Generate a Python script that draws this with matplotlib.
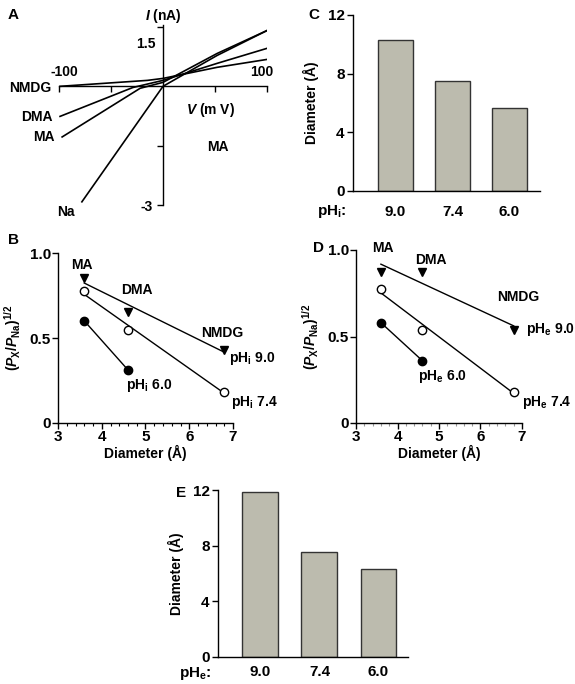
import numpy as np
import matplotlib
matplotlib.use("Agg")
import matplotlib.pyplot as plt

plt.rcParams['font.family'] = ['Liberation Sans', 'DejaVu Sans']
plt.rcParams['font.weight'] = 'bold'
plt.rcParams['axes.labelweight'] = 'bold'
plt.rcParams['font.size'] = 10
plt.rcParams['mathtext.fontset'] = 'custom'
plt.rcParams['mathtext.rm'] = 'Liberation Sans:bold'
plt.rcParams['mathtext.it'] = 'Liberation Sans:italic:bold'
plt.rcParams['mathtext.bf'] = 'Liberation Sans:bold'
plt.rcParams['axes.linewidth'] = 1.0

W, H = 575, 684

# --- panel A: I-V curves ---
iv_nmdg_v = [-99, -15, 0, 52, 100]
iv_nmdg_i = [0.0, 0.15, 0.2, 0.48, 0.68]
iv_dma_v = [-99, -29, 0, 52, 100]
iv_dma_i = [-0.76, -0.03, 0.15, 0.58, 0.96]
iv_ma_v = [-97, -22, 0, 52, 100]
iv_ma_i = [-1.28, -0.05, 0.1, 0.83, 1.41]
iv_na_v = [-78, 0, 52, 100]
iv_na_i = [-2.92, 0.0, 0.78, 1.41]

# --- panels B and D: permeability ratio vs diameter ---
diam = [3.6, 4.6, 6.8]
diam_60 = [3.6, 4.6]
b_ph90 = [0.853, 0.653, 0.43]
b_ph74 = [0.776, 0.547, 0.184]
b_ph60 = [0.601, 0.312]
d_ph90 = [0.871, 0.875, 0.54]
d_ph74 = [0.773, 0.54, 0.181]
d_ph60 = [0.58, 0.36]

# --- panels C and E: pore diameter ---
ph_labels = ['9.0', '7.4', '6.0']
c_diam = [10.3, 7.52, 5.64]
e_diam = [11.83, 7.52, 6.32]

bar_color = '#bcbbae'

fig = plt.figure(figsize=(W / 100, H / 100), dpi=100)


def px_axes(left, top, right, bottom):
    return fig.add_axes([left / W, 1 - bottom / H, (right - left) / W, (bottom - top) / H])


def ftext(x, y, s, **kw):
    fig.text(x / W, 1 - y / H, s, **kw)


# ---------- A ----------
ax = px_axes(59, 25, 267, 205)
for v, i in [(iv_nmdg_v, iv_nmdg_i), (iv_dma_v, iv_dma_i), (iv_ma_v, iv_ma_i), (iv_na_v, iv_na_i)]:
    ax.plot(v, i, color='black', lw=1.2)
ax.set_xlim(-100, 100)
ax.set_ylim(-3.0, 1.55)
ax.spines['left'].set_position(('data', 0))
ax.spines['bottom'].set_position(('data', 0))
ax.spines['right'].set_visible(False)
ax.spines['top'].set_visible(False)
ax.set_xticks([-100, -50, 50, 100])
ax.set_xticklabels([])
ax.set_yticks([-3, -1.5, 1.5])
ax.set_yticklabels(['-3', '', ''])
ax.tick_params(length=4, width=1)
ax.text(-95, 0.35, '-100', ha='center', va='center')
ax.text(95, 0.35, '100', ha='center', va='center')
ax.text(-7, 1.08, '1.5', ha='right', va='center')
ax.text(0, 1.79, r'$\mathit{I}$ (nA)', ha='center', va='center', clip_on=False)
ax.text(46, -0.6, r'$\mathit{V}$ (m V)', ha='center', va='center')
ax.text(53, -1.54, 'MA', ha='center', va='center')
ax.text(-107, -0.05, 'NMDG', ha='right', va='center', clip_on=False)
ax.text(-106, -0.78, 'DMA', ha='right', va='center', clip_on=False)
ax.text(-104, -1.28, 'MA', ha='right', va='center', clip_on=False)
ax.text(-93, -3.17, 'Na', ha='center', va='center', clip_on=False)
ftext(8, 15, 'A', fontsize=11, va='center')


def perm_panel(ax, p90, p74, p60, minor_color):
    for y, mk, fc in [(p90, 'v', 'black'), (p74, 'o', 'white')]:
        k, b = np.polyfit(diam, y, 1)
        xs = np.array([diam[0], diam[-1]])
        ax.plot(xs, k * xs + b, color='black', lw=1.0, zorder=2)
        ax.plot(diam, y, ls='none', marker=mk, ms=5.5 if mk == 'v' else 6,
                mfc=fc, mec='black', mew=1.0, zorder=3, clip_on=False)
    ax.plot(diam_60, p60, color='black', lw=1.0, marker='o', ms=6,
            mfc='black', mec='black', zorder=3)
    ax.set_xlim(3, 7)
    ax.set_ylim(0, 1)
    ax.spines['right'].set_visible(False)
    ax.spines['top'].set_visible(False)
    ax.set_xticks([3, 4, 5, 6, 7])
    ax.set_xticks(np.arange(3, 7.01, 0.2), minor=True)
    ax.set_yticks([0, 0.5, 1.0])
    ax.set_yticklabels(['0', '0.5', '1.0'])
    ax.tick_params(length=4, width=1, labelsize=11, pad=1)
    ax.tick_params(axis='x', which='minor', length=2, width=0.8, color=minor_color)
    ax.set_xlabel('Diameter (Å)', fontsize=10, labelpad=1)
    ax.set_ylabel(r'$(\mathit{P}_\mathrm{X}/\mathit{P}_\mathrm{Na})^{1/2}$', fontsize=10, labelpad=5)


# ---------- B ----------
ax = px_axes(58, 253, 233, 423)
perm_panel(ax, b_ph90, b_ph74, b_ph60, 'black')
ax.text(3.55, 0.93, 'MA', ha='center', va='center')
ax.text(4.8, 0.78, 'DMA', ha='center', va='center')
ax.text(6.75, 0.53, 'NMDG', ha='center', va='center', clip_on=False)
ax.text(6.9, 0.38, r'pH$_\mathrm{i}$ 9.0', ha='left', va='center', clip_on=False)
ax.text(4.55, 0.22, r'pH$_\mathrm{i}$ 6.0', ha='left', va='center')
ax.text(6.95, 0.12, r'pH$_\mathrm{i}$ 7.4', ha='left', va='center', clip_on=False)
ftext(8, 240, 'B', fontsize=11, va='center')

# ---------- D ----------
ax = px_axes(356, 250, 522, 423)
perm_panel(ax, d_ph90, d_ph74, d_ph60, '#999999')
ax.text(3.65, 1.01, 'MA', ha='center', va='center', clip_on=False)
ax.text(4.8, 0.94, 'DMA', ha='center', va='center', clip_on=False)
ax.text(6.9, 0.73, 'NMDG', ha='center', va='center', clip_on=False)
ax.text(7.1, 0.54, r'pH$_\mathrm{e}$ 9.0', ha='left', va='center', clip_on=False)
ax.text(4.5, 0.27, r'pH$_\mathrm{e}$ 6.0', ha='left', va='center')
ax.text(7.0, 0.12, r'pH$_\mathrm{e}$ 7.4', ha='left', va='center', clip_on=False)
ftext(313, 248, 'D', fontsize=11, va='center')


def bar_panel(ax, vals, xlim, xpad):
    x = np.arange(len(vals))
    ax.bar(x, vals, width=0.61, color=bar_color, edgecolor='#333333', linewidth=1.0)
    ax.set_xlim(*xlim)
    ax.set_ylim(0, 12)
    ax.set_yticks([0, 4, 8, 12])
    ax.set_xticks(x)
    ax.set_xticklabels(ph_labels)
    ax.spines['right'].set_visible(False)
    ax.spines['top'].set_visible(False)
    ax.tick_params(axis='y', length=4, width=1, labelsize=11, pad=2)
    ax.tick_params(axis='x', length=0, labelsize=11, pad=xpad)
    ax.set_ylabel('Diameter (Å)', fontsize=10, labelpad=6)


# ---------- C ----------
ax = px_axes(353, 15, 540, 191)
bar_panel(ax, c_diam, (-0.745, 2.535), 10)
ftext(317, 212, r'pH$_\mathrm{i}$:', fontsize=11, va='center')
ftext(308, 15, 'C', fontsize=11, va='center')

# ---------- E ----------
ax = px_axes(218, 490, 408, 657)
bar_panel(ax, e_diam, (-0.72, 2.5), 6)
ftext(179, 674, r'pH$_\mathrm{e}$:', fontsize=11, va='center')
ftext(176, 493, 'E', fontsize=11, va='center')

fig.savefig('out.png', dpi=100)
